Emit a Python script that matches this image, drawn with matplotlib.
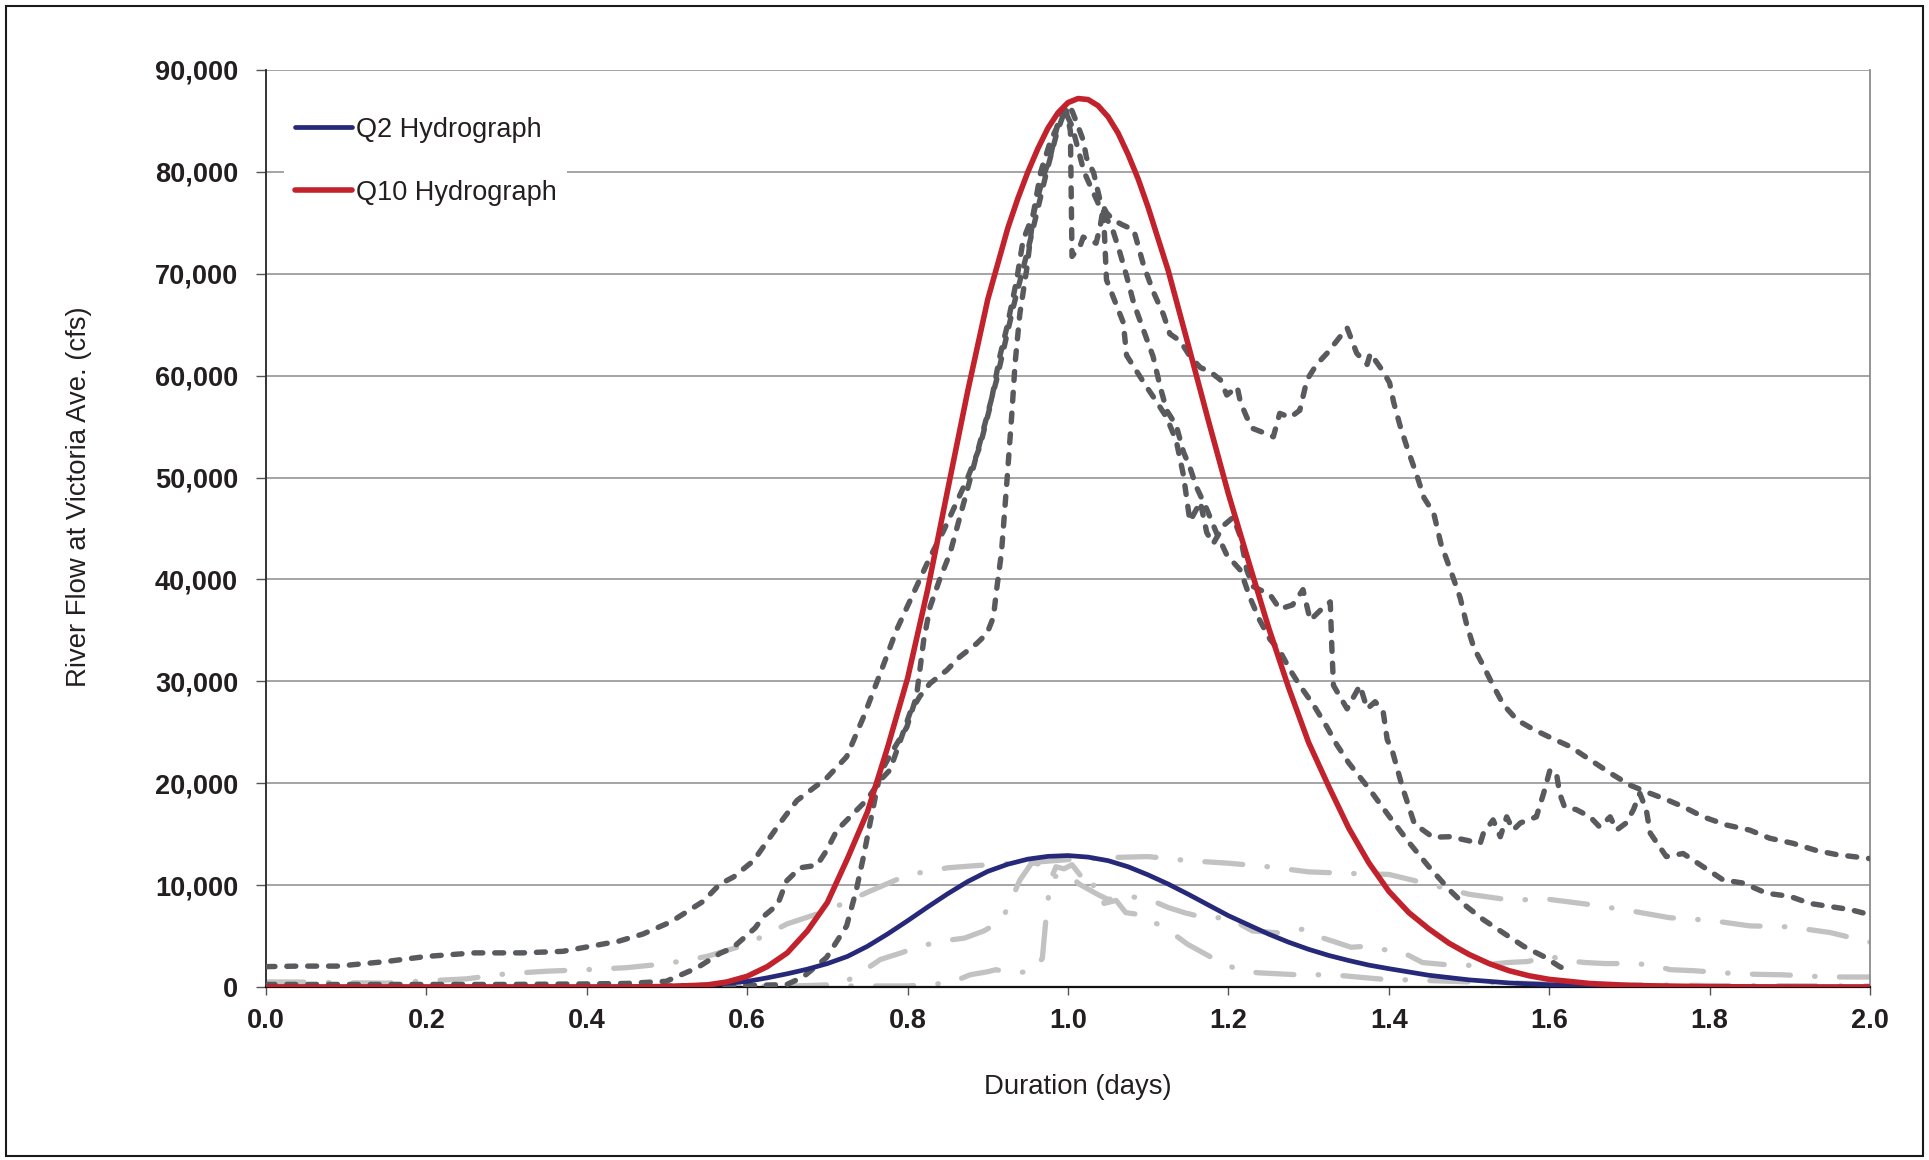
import matplotlib
matplotlib.use("Agg")
import matplotlib.pyplot as plt
from matplotlib.patches import Rectangle
from matplotlib.ticker import FuncFormatter

plt.rcParams['font.family'] = ['Liberation Sans', 'DejaVu Sans']

# ---------------- data ----------------
# Q2 design hydrograph
q2_x = [0.0, 0.45, 0.50, 0.55, 0.60, 0.625, 0.65, 0.675, 0.70, 0.725, 0.75, 0.775, 0.80, 0.825,
        0.85, 0.875, 0.90, 0.925, 0.95, 0.975, 1.00, 1.025, 1.05, 1.075, 1.10, 1.125, 1.15,
        1.175, 1.20, 1.225, 1.25, 1.275, 1.30, 1.325, 1.35, 1.375, 1.40, 1.45, 1.50, 1.55,
        1.60, 1.65, 1.70, 1.80, 1.90, 2.00]
q2_y = [0, 0, 50, 200, 550, 900, 1300, 1750, 2300, 3000, 4000, 5200, 6500, 7850,
        9150, 10350, 11350, 12050, 12550, 12820, 12900, 12750, 12400, 11800, 11000, 10100, 9100,
        8050, 7000, 6100, 5200, 4400, 3700, 3100, 2600, 2150, 1800, 1150, 700, 400,
        220, 120, 60, 20, 0, 0]

# Q10 design hydrograph
q10_x = [0.0, 0.45, 0.50, 0.55, 0.575, 0.60, 0.625, 0.65, 0.675, 0.70, 0.725, 0.75, 0.775,
         0.80, 0.825, 0.85, 0.875, 0.90, 0.925, 0.9375, 0.95, 0.9625, 0.975, 0.9875, 1.00,
         1.0125, 1.025, 1.0375, 1.05, 1.0625, 1.075, 1.0875, 1.10, 1.125, 1.15, 1.175, 1.20,
         1.225, 1.25, 1.275, 1.30, 1.325, 1.35, 1.375, 1.40, 1.425, 1.45, 1.475, 1.50, 1.525,
         1.55, 1.575, 1.60, 1.65, 1.70, 1.80, 1.90, 2.00]
q10_y = [0, 0, 50, 200, 500, 1050, 2000, 3350, 5500, 8300, 12600, 17200, 23500,
         30300, 39000, 48800, 58500, 67500, 74500, 77400, 80000, 82300, 84300, 85800, 86800,
         87200, 87100, 86500, 85400, 83800, 81700, 79300, 76500, 70300, 63000, 55600, 48400,
         41800, 35300, 29400, 24000, 19700, 15600, 12200, 9400, 7300, 5700, 4300, 3200, 2300,
         1600, 1100, 750, 350, 150, 30, 0, 0]

# Historical event A (dark dashed, double peak)
ev_a_x = [0.0, 0.04, 0.09, 0.15, 0.20, 0.26, 0.32, 0.37, 0.44, 0.47, 0.505, 0.545, 0.566, 0.583,
          0.608, 0.641, 0.662, 0.699, 0.724, 0.745, 0.766, 0.786, 0.807, 0.828, 0.845, 0.874,
          0.890, 0.903, 0.915, 0.924, 0.936, 0.944, 0.957, 0.969, 0.978, 0.990, 0.998, 1.005,
          1.011, 1.019, 1.023, 1.032, 1.040, 1.048, 1.056, 1.068, 1.082, 1.094, 1.106, 1.119,
          1.127, 1.140, 1.152, 1.165, 1.177, 1.190, 1.198, 1.211, 1.215, 1.223, 1.231, 1.244,
          1.256, 1.264, 1.277, 1.289, 1.298, 1.310, 1.323, 1.335, 1.348, 1.360, 1.373, 1.377,
          1.393, 1.401, 1.406, 1.414, 1.423, 1.435, 1.444, 1.456, 1.465, 1.477, 1.489, 1.497,
          1.506, 1.518, 1.530, 1.543, 1.560, 1.580, 1.601, 1.626, 1.651, 1.676, 1.701, 1.726,
          1.746, 1.767, 1.792, 1.821, 1.850, 1.875, 1.904, 1.933, 1.958, 2.0]
ev_a_y = [2000, 2050, 2050, 2500, 3000, 3350, 3350, 3500, 4500, 5200, 6400, 8400, 10100, 10800,
          12400, 16100, 18300, 20500, 22600, 26500, 30800, 35000, 38600, 42200, 44800, 49800,
          53000, 57000, 61900, 64800, 69400, 73300, 75900, 79500, 81500, 85700, 86700, 86000,
          84800, 83100, 81400, 79900, 77200, 76000, 75300, 74800, 74300, 70900, 68300, 66000,
          64100, 63400, 61900, 60800, 60400, 59600, 58100, 58900, 57400, 55900, 54800, 54400,
          54000, 56300, 55900, 56600, 59600, 61100, 62200, 63400, 64700, 62200, 61100, 62200,
          60400, 59300, 57400, 55100, 52900, 50200, 48000, 46500, 43500, 40900, 38200, 35600,
          33300, 31500, 29600, 27700, 26200, 25300, 24500, 23600, 22300, 21000, 19800, 19000,
          18400, 17700, 16700, 15900, 15400, 14600, 14100, 13400, 13000, 12600]

# Historical event B (dark dashed, shoulder then spiky recession)
ev_b_x = [0.0, 0.1, 0.2, 0.3, 0.4, 0.45, 0.499, 0.538, 0.566, 0.582, 0.610, 0.620, 0.638, 0.649,
          0.666, 0.687, 0.699, 0.712, 0.732, 0.749, 0.766, 0.778, 0.791, 0.803, 0.815, 0.828,
          0.849, 0.865, 0.886, 0.899, 0.907, 0.911, 0.917, 0.924, 0.930, 0.934, 0.940, 0.949,
          0.957, 0.966, 0.978, 0.990, 0.998, 1.003, 1.005, 1.015, 1.019, 1.027, 1.035, 1.040,
          1.044, 1.048, 1.060, 1.069, 1.073, 1.085, 1.098, 1.110, 1.123, 1.135, 1.144, 1.152,
          1.165, 1.173, 1.181, 1.194, 1.206, 1.215, 1.223, 1.231, 1.239, 1.252, 1.264, 1.280,
          1.293, 1.302, 1.315, 1.327, 1.329, 1.331, 1.348, 1.364, 1.373, 1.383, 1.393, 1.398,
          1.405, 1.417, 1.432, 1.455, 1.476, 1.497, 1.514, 1.518, 1.530, 1.539, 1.547, 1.555,
          1.564, 1.584, 1.593, 1.601, 1.609, 1.613, 1.619, 1.634, 1.651, 1.663, 1.676, 1.684,
          1.696, 1.705, 1.713, 1.721, 1.726, 1.746, 1.767, 1.792, 1.817, 1.842, 1.871, 1.900,
          1.925, 1.950, 1.975, 2.0]
ev_b_y = [250, 250, 250, 250, 300, 350, 560, 1900, 3300, 3850, 5800, 6900, 8100, 10400,
          11700, 11950, 13400, 15400, 17000, 18350, 20300, 21300, 24200, 26900, 28500, 29800,
          31100, 32400, 33700, 34700, 36300, 39000, 42600, 49800, 56300, 61200, 66100, 70700,
          76000, 80000, 83000, 85000, 86000, 84000, 71700, 72700, 73600, 73300, 73000, 74600,
          76500, 69400, 67000, 65200, 62000, 60500, 58900, 57500, 55900, 53600, 50200, 45700,
          47600, 44600, 43500, 45300, 46100, 44200, 40900, 39300, 39000, 38500, 37100, 37500,
          39000, 36000, 37000, 37800, 33300, 29600, 27300, 29600, 27300, 28000, 27000, 24300,
          23000, 19600, 16000, 14700, 14750, 14400, 14100, 15100, 16400, 14750, 16700, 15400,
          16100, 16700, 19000, 21300, 21000, 19000, 17700, 17400, 16700, 15700, 16700, 15400,
          16100, 17400, 19000, 17400, 15100, 12800, 13100, 11800, 10500, 10200, 9200, 8900,
          8200, 7900, 7600, 7100]

# Historical event C (dark dashed, late steep rise, ends at 1.62 days)
ev_c_x = [0.0, 0.2, 0.4, 0.5, 0.6, 0.649, 0.670, 0.699, 0.724, 0.736, 0.745, 0.753, 0.759, 0.766,
          0.780, 0.799, 0.811, 0.820, 0.828, 0.840, 0.853, 0.882, 0.911, 0.932, 0.953, 0.973,
          0.986, 0.996, 1.005, 1.020, 1.040, 1.055, 1.065, 1.073, 1.082, 1.094, 1.106, 1.115,
          1.123, 1.135, 1.144, 1.152, 1.160, 1.173, 1.185, 1.198, 1.215, 1.227, 1.239, 1.252,
          1.264, 1.277, 1.289, 1.306, 1.323, 1.335, 1.350, 1.375, 1.400, 1.425, 1.450, 1.476,
          1.497, 1.518, 1.543, 1.568, 1.593, 1.613, 1.621]
ev_c_y = [100, 100, 100, 100, 150, 230, 1000, 2900, 6000, 9500, 12800, 16000, 18350, 21000,
          23000, 25500, 28500, 34000, 37300, 40000, 42600, 51000, 59600, 66800, 73300, 79900,
          83800, 86000, 84500, 80000, 76500, 74500, 72000, 69800, 67100, 64500, 61900, 58900,
          56600, 55100, 52500, 51000, 49100, 46900, 44600, 42400, 40900, 38200, 36000, 34100,
          33000, 31100, 29600, 27700, 25500, 23800, 22000, 19500, 16800, 14200, 11800, 9500,
          7900, 6600, 5300, 4000, 3000, 2000, 1700]

# Smaller historical events (light grey dash-dot)
ev_d_x = [0.0, 0.05, 0.1, 0.15, 0.2, 0.25, 0.3, 0.35, 0.4, 0.45, 0.5, 0.55, 0.6, 0.65, 0.7, 0.75,
          0.8, 0.85, 0.9, 0.95, 1.0, 1.05, 1.1, 1.15, 1.2, 1.25, 1.3, 1.35, 1.4, 1.45, 1.5, 1.55,
          1.6, 1.65, 1.7, 1.75, 1.8, 1.85, 1.9, 1.95, 2.0]
ev_d_y = [500, 480, 420, 380, 600, 800, 1300, 1550, 1700, 1900, 2300, 3000, 4200, 6200, 7500, 9300,
          11000, 11700, 12000, 12200, 12500, 12700, 12800, 12400, 12150, 11800, 11300, 11150,
          11050, 10100, 9100, 8550, 8600, 8100, 7500, 6800, 6550, 6000, 5900, 5350, 4400]

ev_e_x = [0.0, 0.2, 0.4, 0.6, 0.66, 0.716, 0.738, 0.766, 0.79, 0.816, 0.842, 0.871, 0.895, 0.917,
          0.929, 0.94, 0.955, 0.968, 0.977, 0.989, 1.0, 1.014, 1.039, 1.05, 1.078, 1.107, 1.125,
          1.145, 1.17, 1.2, 1.23, 1.265, 1.294, 1.31, 1.33, 1.353, 1.373, 1.39, 1.415, 1.442,
          1.47, 1.51, 1.548, 1.573, 1.59, 1.602, 1.62, 1.645, 1.67, 1.7, 1.726, 1.751, 1.78,
          1.834, 1.862, 1.89, 1.942, 1.97, 2.0]
ev_e_y = [0, 0, 0, 50, 100, 250, 1200, 2700, 3300, 4000, 4500, 4800, 5500, 6500,
          8500, 10500, 12200, 12000, 10800, 10900, 11100, 10100, 9000, 8600, 8900, 8400, 7800,
          7300, 6800, 6800, 5500, 5300, 5700, 5000, 4500, 3900, 4000, 3700, 3500, 2400,
          2200, 2100, 2400, 2500, 2800, 3000, 2600, 2400, 2300, 2300, 2200, 1700, 1600,
          1300, 1240, 1200, 1000, 980, 980]

ev_f_x = [0.0, 0.4, 0.6, 0.7, 0.8, 0.853, 0.878, 0.9, 0.91, 0.928, 0.955, 0.968, 0.973, 0.978,
          0.985, 0.995, 1.005, 1.015, 1.025, 1.035, 1.045, 1.06, 1.072, 1.09, 1.1, 1.111, 1.13,
          1.149, 1.186, 1.209, 1.236, 1.286, 1.315, 1.344, 1.394, 1.423, 1.5, 1.6, 1.8, 2.0]
ev_f_y = [0, 0, 0, 100, 100, 400, 1200, 1500, 1700, 1400, 1500, 2800, 7100, 10500,
          11800, 11600, 12000, 11000, 9500, 10200, 8200, 8500, 7300, 7100, 6500, 6200, 5300,
          4200, 2600, 1800, 1400, 1200, 1200, 1100, 750, 700, 500, 300, 150, 100]

x_ticks = [0.0, 0.2, 0.4, 0.6, 0.8, 1.0, 1.2, 1.4, 1.6, 1.8, 2.0]
y_ticks = [0, 10000, 20000, 30000, 40000, 50000, 60000, 70000, 80000, 90000]
series_labels = ["Q2 Hydrograph", "Q10 Hydrograph"]
x_title = "Duration (days)"
y_title = "River Flow at Victoria Ave. (cfs)"

# ---------------- figure ----------------
W, H = 1929, 1160
fig = plt.figure(figsize=(W / 100, H / 100), dpi=100)
L, R, T, B = 266, 1870, 70, 987
ax = fig.add_axes([L / W, 1 - B / H, (R - L) / W, (B - T) / H])

TXT = '#231f20'
DARK = '#595a5d'
GREY = '#c2c2c2'

grey_kw = dict(color=GREY, lw=3.8, dash_capstyle='round', solid_joinstyle='round', zorder=2)
for gx, gy in [(ev_d_x, ev_d_y), (ev_e_x, ev_e_y), (ev_f_x, ev_f_y)]:
    ln, = ax.plot(gx, gy, **grey_kw)
    ln.set_dashes([7.2, 4.6, 0.1, 4.6])

dark_kw = dict(color=DARK, lw=3.9, dash_capstyle='round', solid_joinstyle='round', zorder=3)
for dx, dy in [(ev_a_x, ev_a_y), (ev_b_x, ev_b_y), (ev_c_x, ev_c_y)]:
    ln, = ax.plot(dx, dy, **dark_kw)
    ln.set_dashes([1.65, 2.2])

l2, = ax.plot(q2_x, q2_y, color='#26287a', lw=3.4, solid_capstyle='round',
              solid_joinstyle='round', zorder=4, label=series_labels[0])
l10, = ax.plot(q10_x, q10_y, color='#c1222b', lw=4.0, solid_capstyle='round',
               solid_joinstyle='round', zorder=5, label=series_labels[1])

ax.set_xlim(0, 2.0)
ax.set_ylim(0, 90000)
ax.set_xticks(x_ticks)
ax.set_yticks(y_ticks)
ax.xaxis.set_major_formatter(FuncFormatter(lambda v, p: f"{v:.1f}"))
ax.yaxis.set_major_formatter(FuncFormatter(lambda v, p: f"{int(round(v)):,}"))

ax.grid(axis='y', color='#8c8c8c', lw=1.1, zorder=0)
ax.set_axisbelow(True)

ax.spines['top'].set_visible(False)
ax.spines['right'].set_color('#8c8c8c')
ax.spines['right'].set_linewidth(1.3)
ax.spines['left'].set_color('#333333')
ax.spines['left'].set_linewidth(1.4)
ax.spines['bottom'].set_color('#111111')
ax.spines['bottom'].set_linewidth(1.6)

ax.tick_params(axis='y', direction='out', length=7, width=1.0, color='#555555', pad=13,
               labelsize=19.5, labelcolor=TXT)
ax.tick_params(axis='x', direction='out', length=6, width=1.0, color='#555555', pad=9,
               labelsize=19.5, labelcolor=TXT)
for lab in ax.get_xticklabels() + ax.get_yticklabels():
    lab.set_fontweight('bold')

ax.set_xlabel(x_title, fontsize=19.8, color=TXT)
ax.set_ylabel(y_title, fontsize=19.8, color=TXT)
ax.xaxis.label.set_va('center')
ax.yaxis.label.set_va('center')
ax.xaxis.set_label_coords((1078 - L) / (R - L), (B - 1087) / (B - T))
ax.yaxis.set_label_coords((79 - L) / (R - L), (B - 497) / (B - T))

leg = ax.legend(handles=[l2, l10], loc='upper left',
                bbox_to_anchor=((284 - L) / (R - L), 1 - (106 - T) / (B - T)),
                borderaxespad=0, frameon=True, fontsize=19.5, handlelength=2.1,
                handletextpad=0.15, labelspacing=1.36, borderpad=0.4)
leg.get_frame().set_facecolor('white')
leg.get_frame().set_edgecolor('none')
leg.get_frame().set_alpha(1.0)
leg.set_zorder(10)
for t in leg.get_texts():
    t.set_color(TXT)

# outer chart border
fig.patches.append(Rectangle((6 / W, 4 / H), (W - 12) / W, (H - 10) / H,
                             transform=fig.transFigure, fill=False,
                             edgecolor='#1a1a1a', lw=1.5))

fig.savefig('out.png', dpi=100, facecolor='white')
